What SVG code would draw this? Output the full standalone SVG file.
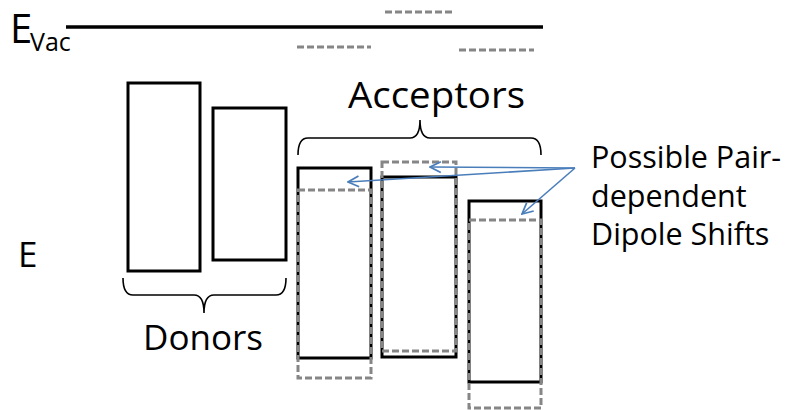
<svg xmlns="http://www.w3.org/2000/svg" width="786" height="410" viewBox="0 0 786 410">
<defs>
<style>
text{font-family:"Open Sans","Liberation Sans",sans-serif;fill:#000}
.box{fill:none;stroke:#000;stroke-width:3}
.dash{fill:none;stroke:#868686;stroke-width:3;stroke-dasharray:7 3}
.brace{fill:none;stroke:#000;stroke-width:1.6}
.arrow{fill:none;stroke:#4a7ebb;stroke-width:1.6;marker-end:url(#ah)}
</style>
<marker id="ah" viewBox="0 0 12 12" refX="11" refY="6" markerWidth="13" markerHeight="13" markerUnits="userSpaceOnUse" orient="auto">
<path d="M1,1 L11,6 L1,11" fill="none" stroke="#4a7ebb" stroke-width="1.6"/>
</marker>
</defs>
<rect width="786" height="410" fill="#fff"/>
<g id="evac">
<text x="10" y="43" font-size="40">E</text>
<text x="30" y="51" font-size="25">Vac</text>
<line x1="66" y1="27" x2="543" y2="27" stroke="#000" stroke-width="3.5"/>
<line class="dash" x1="385" y1="12" x2="455" y2="12"/>
<line class="dash" x1="297" y1="47" x2="371" y2="47"/>
<line class="dash" x1="459" y1="50" x2="534" y2="50"/>
</g>
<g id="e-label"><text x="18" y="267" font-size="35">E</text></g>
<g id="donor1"><rect class="box" x="128" y="83" width="72" height="188"/></g>
<g id="donor2"><rect class="box" x="213" y="108" width="73" height="152"/></g>
<g id="donors">
<path class="brace" d="M123,278 Q123,295 133,295 L194,295 Q204,295 204,313 Q204,295 214,295 L276,295 Q286,295 286,278"/>
<text x="143" y="350" font-size="34" textLength="120" lengthAdjust="spacingAndGlyphs">Donors</text>
</g>
<g id="acceptors">
<path class="brace" d="M298,155 Q298,138 308,138 L410,138 Q420,138 420,120 Q420,138 430,138 L531,138 Q541,138 541,155"/>
<text x="348" y="108" font-size="36" textLength="177" lengthAdjust="spacingAndGlyphs">Acceptors</text>
</g>
<g id="acceptor1">
<rect class="box" x="298" y="168" width="73" height="190"/>
<rect class="dash" x="298" y="190" width="73" height="188"/>
</g>
<g id="acceptor2">
<rect class="box" x="382" y="177" width="74" height="180"/>
<rect class="dash" x="382" y="162" width="74" height="189"/>
</g>
<g id="acceptor3">
<rect class="box" x="469" y="201" width="72" height="181"/>
<rect class="dash" x="469" y="220" width="72" height="188"/>
</g>
<g id="connectors">
<line class="arrow" x1="575" y1="168" x2="348" y2="182"/>
<line class="arrow" x1="575" y1="168" x2="430" y2="167"/>
<line class="arrow" x1="575" y1="168" x2="522" y2="214"/>
</g>
<g id="shift-label">
<text x="591" y="168" font-size="30.5">Possible Pair-</text>
<text x="591" y="207" font-size="30.5">dependent</text>
<text x="591" y="245" font-size="30.5">Dipole Shifts</text>
</g>
</svg>
